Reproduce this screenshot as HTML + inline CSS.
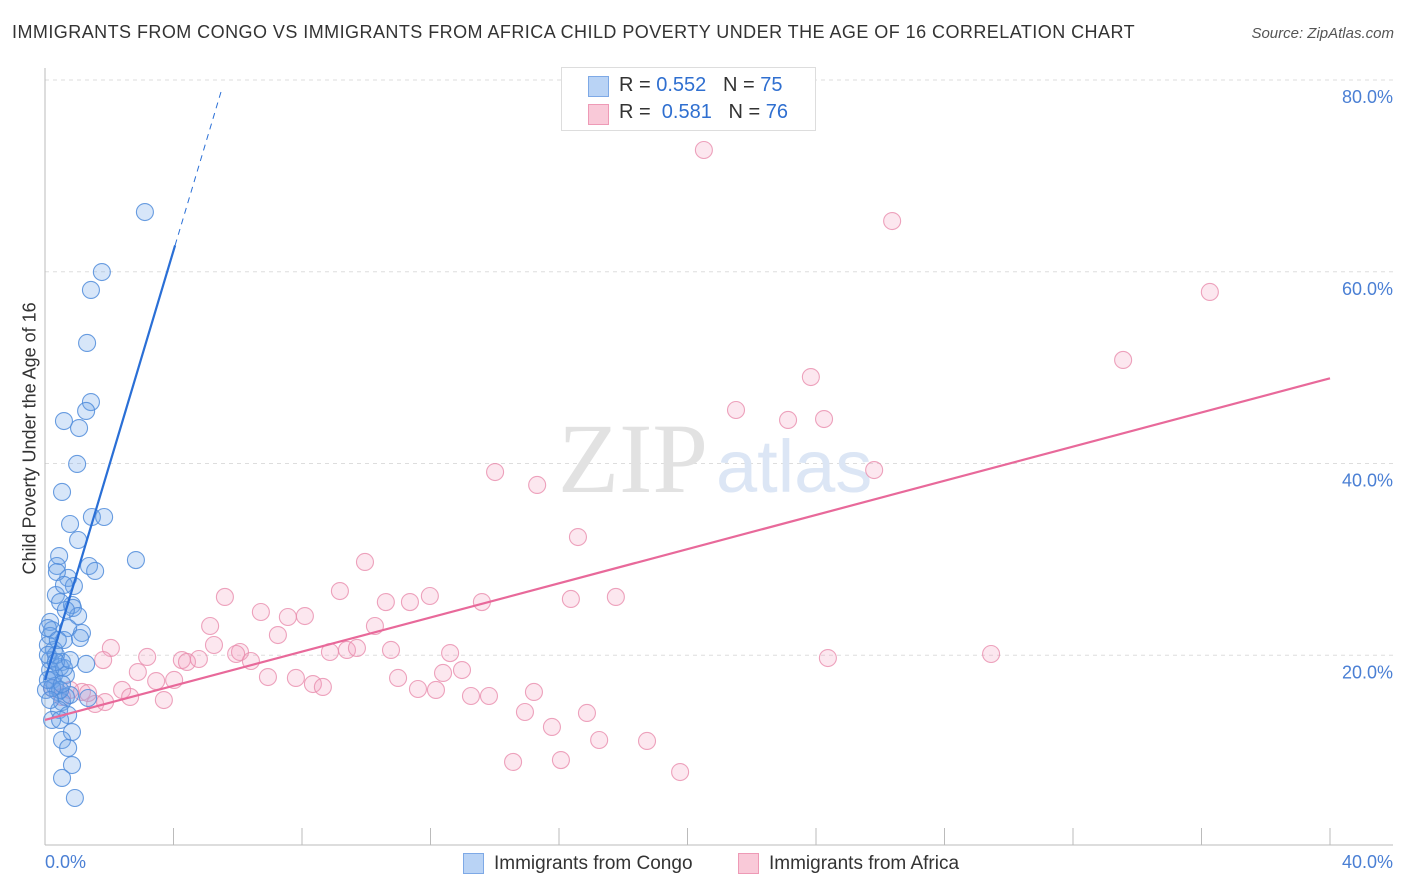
<!DOCTYPE html>
<html><head><meta charset="utf-8">
<style>
body{margin:0;background:#fff;font-family:"Liberation Sans",sans-serif;}
#wrap{position:relative;width:1406px;height:892px;overflow:hidden;}
.t{position:absolute;white-space:nowrap;}
</style></head>
<body><div id="wrap">
<div class="t" style="left:12px;top:22px;font-size:18px;color:#333;letter-spacing:0.45px;">IMMIGRANTS FROM CONGO VS IMMIGRANTS FROM AFRICA CHILD POVERTY UNDER THE AGE OF 16 CORRELATION CHART</div>
<div class="t" style="right:12px;top:25px;font-size:15px;color:#555;font-style:italic;">Source: ZipAtlas.com</div>
<svg id="plot" width="1406" height="892" style="position:absolute;left:0;top:0"></svg>
</div>
<script>
const yTicks=[20,40,60,80];
const xTickCount=10;
const blueX=[],blueY=[],pinkX=[],pinkY=[];
const bluePx=[[145,212],[102,272],[91,290],[87,343],[91,402],[86,411],[64,421],[79,428],[77,464],[62,492],[70,524],[92,517],[104,517],[78,540],[136,560],[59,556],[57,566],[89,566],[95,571],[68,578],[57,572],[74,586],[56,595],[60,602],[72,605],[73,608],[78,616],[50,622],[52,630],[82,633],[68,628],[50,636],[64,640],[54,650],[50,660],[62,662],[60,667],[86,664],[66,675],[52,680],[55,686],[58,692],[66,697],[62,702],[70,695],[88,698],[59,710],[68,715],[52,720],[72,732],[62,740],[68,748],[72,765],[62,778],[75,798],[48,628],[48,645],[50,670],[54,675],[46,690],[60,690],[64,668],[56,655],[48,655],[58,640],[66,610],[80,638],[52,688],[48,680],[62,684],[56,662],[70,660],[50,700],[60,720],[64,585]];
const pinkPx=[[704,150],[892,221],[1210,292],[1123,360],[811,377],[736,410],[788,420],[824,419],[874,470],[495,472],[537,485],[578,537],[365,562],[340,591],[225,597],[261,612],[278,635],[288,617],[305,616],[386,602],[410,602],[430,596],[482,602],[571,599],[616,597],[210,626],[375,626],[214,645],[240,652],[236,654],[251,661],[182,660],[147,657],[111,648],[103,660],[187,662],[199,659],[330,652],[347,650],[357,648],[391,650],[450,653],[462,670],[443,673],[268,677],[296,678],[313,684],[323,687],[138,672],[156,681],[174,680],[398,678],[418,689],[436,690],[471,696],[489,696],[534,692],[525,712],[552,727],[587,713],[599,740],[647,741],[561,760],[513,762],[680,772],[828,658],[991,654],[122,690],[130,697],[164,700],[95,704],[82,692],[70,690],[62,697],[52,688],[88,693],[105,702]];
bluePx.forEach(p=>{blueX.push(+((p[0]-45)/32.125).toFixed(2));blueY.push(+((847-p[1])/9.5875).toFixed(2));});
pinkPx.forEach(p=>{pinkX.push(+((p[0]-45)/32.125).toFixed(2));pinkY.push(+((847-p[1])/9.5875).toFixed(2));});
const blueFit=[17.4,11.2];
const pinkFit=[13.25,0.891];
const X0=45,X1=1330,Y0=847,Y80=80;
const sx=v=>X0+(X1-X0)*v/40;
const sy=v=>Y0-(Y0-Y80)*v/80;
const svg=document.getElementById('plot');
const NS='http://www.w3.org/2000/svg';
function mk(tag,attrs,parent){const e=document.createElementNS(NS,tag);for(const k in attrs)e.setAttribute(k,attrs[k]);(parent||svg).appendChild(e);return e;}
yTicks.forEach(v=>{
 const g=mk('line',{x1:45,x2:1393,y1:sy(v),y2:sy(v),stroke:'#ddd','stroke-dasharray':'4,4'});
 
 
 const t=mk('text',{x:1393,y:sy(v)+23,'text-anchor':'end','font-size':18,fill:'#4a7fd4','font-family':'Liberation Sans, sans-serif'});
 t.textContent=v.toFixed(1)+'%';
 
 
});
const wm=mk('text',{x:633,y:492,'text-anchor':'middle','font-size':100,fill:'#e2e2e2','font-family':'Liberation Serif, serif'});
wm.textContent='ZIP';


const wm2=mk('text',{x:716,y:492,'font-size':74,fill:'#dce6f5','font-family':'Liberation Sans, sans-serif'});
wm2.textContent='atlas';


const ax=mk('line',{x1:45,x2:45,y1:68,y2:845,stroke:'#bbb'});


const bx=mk('line',{x1:45,x2:1393,y1:845,y2:845,stroke:'#bbb'});


for(let i=0;i<=xTickCount;i++){
 const tk=mk('line',{x1:sx(i*4),x2:sx(i*4),y1:828,y2:845,stroke:'#bbb'});
 
 
}
function dots(xs,ys,fill,stroke,name){
 xs.forEach((x,i)=>{
  const c=mk('circle',{cx:sx(x),cy:sy(ys[i]),r:8.5,fill:fill,stroke:stroke,'stroke-width':1.1});
  
  
 });
}
dots(pinkX,pinkY,'rgba(245,160,190,0.25)','rgba(232,140,172,0.8)','africa-point');
dots(blueX,blueY,'rgba(110,165,235,0.28)','rgba(80,140,218,0.85)','congo-point');
const pl=mk('line',{x1:sx(0),y1:sy(pinkFit[0]),x2:sx(40),y2:sy(pinkFit[0]+pinkFit[1]*40),stroke:'#e8699a','stroke-width':2.2});


const bl=mk('line',{x1:sx(0),y1:sy(blueFit[0]),x2:sx(4.05),y2:sy(blueFit[0]+blueFit[1]*4.05),stroke:'#2a6fd6','stroke-width':2.2});


const bd=mk('line',{x1:sx(4.05),y1:sy(blueFit[0]+blueFit[1]*4.05),x2:sx(5.48),y2:sy(blueFit[0]+blueFit[1]*5.48),stroke:'#2a6fd6','stroke-width':1,'stroke-dasharray':'6,5'});


</script>
<div class="t" style="left:-90px;top:444px;font-size:18px;color:#333;transform:rotate(-90deg);width:240px;text-align:center;">Child Poverty Under the Age of 16</div>
<div class="t" style="left:45px;top:852px;font-size:18px;color:#4a7fd4;">0.0%</div>
<div class="t" style="right:13px;top:852px;font-size:18px;color:#4a7fd4;">40.0%</div>
<div style="position:absolute;left:561px;top:67px;width:253px;height:62px;border:1px solid #ddd;background:#fff;font-size:20px;color:#333;">
 <div style="position:absolute;left:26px;top:8px;width:19px;height:19px;background:#b9d3f5;border:1px solid #7ea9e6;"></div>
 <div class="t" style="left:57px;top:6px;">R = <span style="color:#2f6fd0">0.552</span>&nbsp;&nbsp;&nbsp;N = <span style="color:#2f6fd0">75</span></div>
 <div style="position:absolute;left:26px;top:36px;width:19px;height:19px;background:#f9c9d8;border:1px solid #ee9ab6;"></div>
 <div class="t" style="left:57px;top:33px;">R = &nbsp;<span style="color:#2f6fd0">0.581</span>&nbsp;&nbsp;&nbsp;N = <span style="color:#2f6fd0">76</span></div>
</div>
<div style="position:absolute;left:463px;top:853px;font-size:19px;color:#333;">
 <div style="position:absolute;left:0;top:0;width:19px;height:19px;background:#b9d3f5;border:1px solid #7ea9e6;"></div>
 <div class="t" style="left:31px;top:0;">Immigrants from Congo</div></div>
<div style="position:absolute;left:738px;top:853px;font-size:19px;color:#333;">
 <div style="position:absolute;left:0;top:0;width:19px;height:19px;background:#f9c9d8;border:1px solid #ee9ab6;"></div>
 <div class="t" style="left:31px;top:0;">Immigrants from Africa</div></div>
</body></html>
